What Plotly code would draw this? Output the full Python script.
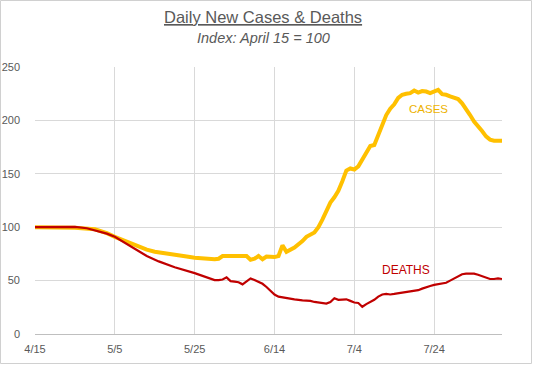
import pandas as pd
import plotly.graph_objects as go

# ---- data (index, April 15 = 100); day offsets from April 15, 2020 ----
start_date = "2020-04-15"
end_date = "2020-08-10"

case_days = [0, 5, 10, 15, 18, 20, 23, 25, 28, 30, 33, 35, 38, 40, 43, 45, 46, 47, 50, 53,
             54, 55, 56, 57, 58, 59, 60, 61, 62, 63, 65, 67, 68, 70, 71, 72, 73, 74, 75, 76,
             77, 78, 79, 80, 81, 82, 83, 84, 85, 86, 87, 88, 89, 90, 91, 92, 93, 94, 95, 96,
             97, 98, 99, 100, 101, 102, 103, 104, 105, 106, 107, 108, 109, 110, 111, 112, 113,
             114, 115, 116, 117]
case_values = [100, 100, 99.5, 98, 94.5, 91, 86.5, 83, 79, 77, 75, 74, 72.5, 71.5, 70.5, 70, 70.5, 73, 73, 73,
               69.5, 70.5, 73, 70, 72.5, 72, 72, 73, 83, 77, 81, 87, 91, 95, 100, 107, 115, 123, 128, 134,
               143, 153, 155, 154, 157, 163, 170, 176, 177, 186, 197, 205, 211, 215, 221, 224, 225, 225.5, 228, 226,
               227.5, 227, 225.5, 227, 228.5, 224.5, 224, 222.5, 221, 220, 216, 211, 205, 199, 195, 190, 185,
               182, 181, 181, 181]

death_days = [0, 5, 10, 13, 15, 18, 20, 23, 26, 28, 31, 35, 40, 43, 45, 46, 47, 48, 49, 50,
              51, 52, 53, 54, 55, 56, 57, 58, 59, 60, 61, 63, 65, 67, 69, 70, 71, 73, 74, 75,
              76, 77, 78, 79, 80, 81, 82, 83, 84, 85, 86, 87, 88, 89, 90, 91, 92, 93, 94, 95,
              96, 97, 98, 99, 100, 101, 102, 103, 104, 105, 106, 107, 108, 109, 110, 111, 112, 113,
              114, 115, 116, 117]
death_values = [100, 100, 100.3, 99, 97, 94, 91, 84, 77, 73, 68, 62.5, 57, 53, 50.5, 50.5, 51, 53, 49.5, 49,
                48.5, 46.5, 49, 52, 50.5, 48.5, 47, 44, 40, 37, 35, 33.5, 32.5, 31.5, 31, 30, 29.5, 28.5, 30, 33.5,
                32, 32, 32.5, 31, 29.5, 29, 25.5, 28, 30, 32, 35, 37, 37.5, 37, 37.5, 38, 38.5, 39, 39.5, 40,
                41, 42.5, 44, 45, 46, 46.5, 47, 48, 50, 52, 54.5, 56, 56.5, 56.5, 56.5, 55.5, 54, 52.5,
                51.5, 51.5, 52, 51.5]

series_names = ["CASES", "DEATHS"]
title_text = "Daily New Cases & Deaths"
subtitle_text = "Index: April 15 = 100"

base = pd.Timestamp(start_date)
case_dates = [base + pd.Timedelta(days=d) for d in case_days]
death_dates = [base + pd.Timedelta(days=d) for d in death_days]

CASE_COLOR = "#FFC000"
DEATH_COLOR = "#C00000"
FONT = "Liberation Sans"
GRAY_TEXT = "#595959"

fig = go.Figure()
fig.add_trace(go.Scatter(x=case_dates, y=case_values, mode="lines", name=series_names[0],
                         line=dict(color=CASE_COLOR, width=4), hoverinfo="skip"))
fig.add_trace(go.Scatter(x=death_dates, y=death_values, mode="lines", name=series_names[1],
                         line=dict(color=DEATH_COLOR, width=2.2), hoverinfo="skip"))

# series labels
fig.add_annotation(x=base + pd.Timedelta(days=98.5), y=211, text=series_names[0], showarrow=False,
                   font=dict(family=FONT, size=11.5, color="#EDB200"), xref="x", yref="y")
fig.add_annotation(x=base + pd.Timedelta(days=93), y=60, text=series_names[1], showarrow=False,
                   font=dict(family=FONT, size=12, color=DEATH_COLOR), xref="x", yref="y")

# titles
fig.add_annotation(text="<u>" + title_text + "</u>", xref="paper", yref="paper",
                   x=(263 - 35) / 467, y=(334 - 17) / 267, showarrow=False,
                   xanchor="center", yanchor="middle",
                   font=dict(family=FONT, size=16.5, color=GRAY_TEXT))
fig.add_annotation(text="<i>" + subtitle_text + "</i>", xref="paper", yref="paper",
                   x=(263 - 35) / 467, y=(334 - 37.5) / 267, showarrow=False,
                   xanchor="center", yanchor="middle",
                   font=dict(family=FONT, size=14.5, color=GRAY_TEXT))

# outer chart border
fig.add_shape(type="rect", xref="paper", yref="paper",
              x0=(0.5 - 35) / 467, x1=(531.5 - 35) / 467,
              y0=(334 - 363.5) / 267, y1=(334 - 0.5) / 267,
              line=dict(color="#D0D0D0", width=1), fillcolor="rgba(0,0,0,0)", layer="below")

fig.update_layout(
    width=533, height=365,
    margin=dict(l=35, r=31, t=67, b=31, autoexpand=False),
    paper_bgcolor="white", plot_bgcolor="white",
    showlegend=False,
    font=dict(family=FONT, size=11, color=GRAY_TEXT),
)
fig.update_xaxes(
    range=[pd.Timestamp(start_date), pd.Timestamp(end_date)],
    tick0=start_date, dtick=20 * 86400000, tickformat="%-m/%-d",
    showgrid=True, gridcolor="#D9D9D9", gridwidth=1,
    showline=True, linecolor="#BFBFBF", linewidth=1,
    ticks="", zeroline=False, automargin=False,
    ticklabelstandoff=5,
    tickfont=dict(family=FONT, size=11, color=GRAY_TEXT),
)
fig.update_yaxes(
    range=[0, 250], dtick=50, tick0=0,
    showgrid=True, gridcolor="#D9D9D9", gridwidth=1,
    showline=False, zeroline=False, ticks="", automargin=False,
    ticklabelstandoff=14,
    tickfont=dict(family=FONT, size=11, color=GRAY_TEXT),
)

fig.write_html("out.html", config={"displayModeBar": False},
               post_script="document.body.style.margin='0';document.body.style.overflow='hidden';")
